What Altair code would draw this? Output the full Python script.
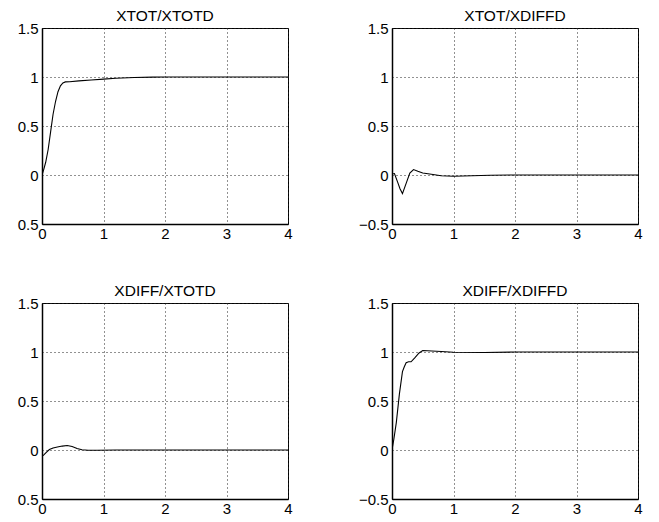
import altair as alt
import pandas as pd

titles = ["XTOT/XTOTD", "XTOT/XDIFFD", "XDIFF/XTOTD", "XDIFF/XDIFFD"]

t1 = [0, 0.03, 0.06, 0.1, 0.14, 0.18, 0.22, 0.26, 0.3, 0.34, 0.38, 0.45, 0.6, 0.8, 1.0, 1.2, 1.5, 1.8, 2.0, 2.5, 3.0, 3.5, 4.0]
y1 = [0, 0.06, 0.13, 0.26, 0.44, 0.62, 0.75, 0.85, 0.91, 0.94, 0.95, 0.952, 0.96, 0.97, 0.978, 0.987, 0.995, 0.999, 1.0, 1.0, 1.0, 1.0, 1.0]

t2 = [0, 0.04, 0.09, 0.13, 0.17, 0.23, 0.29, 0.35, 0.42, 0.5, 0.64, 0.8, 1.0, 1.3, 1.6, 2.0, 3.0, 4.0]
y2 = [0.01, 0.015, -0.07, -0.14, -0.19, -0.085, 0.02, 0.055, 0.038, 0.02, 0.008, -0.007, -0.012, -0.007, -0.002, 0, 0, 0]

t3 = [0, 0.03, 0.07, 0.12, 0.18, 0.25, 0.33, 0.41, 0.49, 0.57, 0.65, 0.75, 0.9, 1.2, 2.0, 3.0, 4.0]
y3 = [-0.065, -0.05, -0.025, 0.005, 0.02, 0.03, 0.04, 0.046, 0.035, 0.015, 0.002, -0.003, -0.002, 0, 0, 0, 0]

t4 = [0, 0.03, 0.07, 0.12, 0.17, 0.2, 0.23, 0.27, 0.31, 0.37, 0.44, 0.5, 0.65, 0.8, 1.0, 1.5, 2.0, 3.0, 4.0]
y4 = [0, 0.11, 0.28, 0.57, 0.8, 0.85, 0.89, 0.9, 0.9, 0.94, 0.99, 1.015, 1.01, 1.005, 0.998, 0.995, 1.0, 1.0, 1.0]

x_ticks = [0, 1, 2, 3, 4]
y_ticks = [-0.5, 0, 0.5, 1, 1.5]

FONT = "Liberation Sans"


def panel(t, y, title, left):
    df = pd.DataFrame({"t": t, "y": y})
    label_expr = "datum.value == -0.5 ? '0.5' : datum.label" if left else "datum.label"
    return (
        alt.Chart(df)
        .mark_line(color="black", strokeWidth=1.1, clip=True)
        .encode(
            x=alt.X(
                "t:Q",
                scale=alt.Scale(domain=[0, 4], nice=False, zero=False),
                axis=alt.Axis(values=x_ticks, format="~g", title=None),
            ),
            y=alt.Y(
                "y:Q",
                scale=alt.Scale(domain=[-0.5, 1.5], nice=False, zero=False),
                axis=alt.Axis(values=y_ticks, format="~g", labelExpr=label_expr, title=None),
            ),
        )
        .properties(
            width=246,
            height=196,
            title=alt.TitleParams(
                title, font=FONT, fontSize=15.5, fontWeight="normal", color="black",
                anchor="middle", frame="group", offset=-15, baseline="alphabetic",
            ),
        )
    )


charts = [
    panel(t1, y1, titles[0], True),
    panel(t2, y2, titles[1], False),
    panel(t3, y3, titles[2], True),
    panel(t4, y4, titles[3], False),
]

chart = (
    alt.concat(*charts, columns=2, spacing={"row": 79, "column": 104}, bounds="flush")
    .properties(padding={"left": 8, "top": 0, "right": 5, "bottom": 5}, background="white")
    .configure_view(stroke="black", strokeWidth=1)
    .configure_axis(
        domainColor="black",
        domainWidth=1.5,
        ticks=False,
        labelFont=FONT,
        labelFontSize=15,
        labelColor="black",
        labelPadding=4,
        grid=True,
        gridColor="#222",
        gridDash=[1, 3],
        gridWidth=1,
        labelFlush=False,
        labelOverlap=False,
    )
    .configure_axisX(labelPadding=2)
)

chart.save("out.html", embed_options={"renderer": "svg", "actions": False})
